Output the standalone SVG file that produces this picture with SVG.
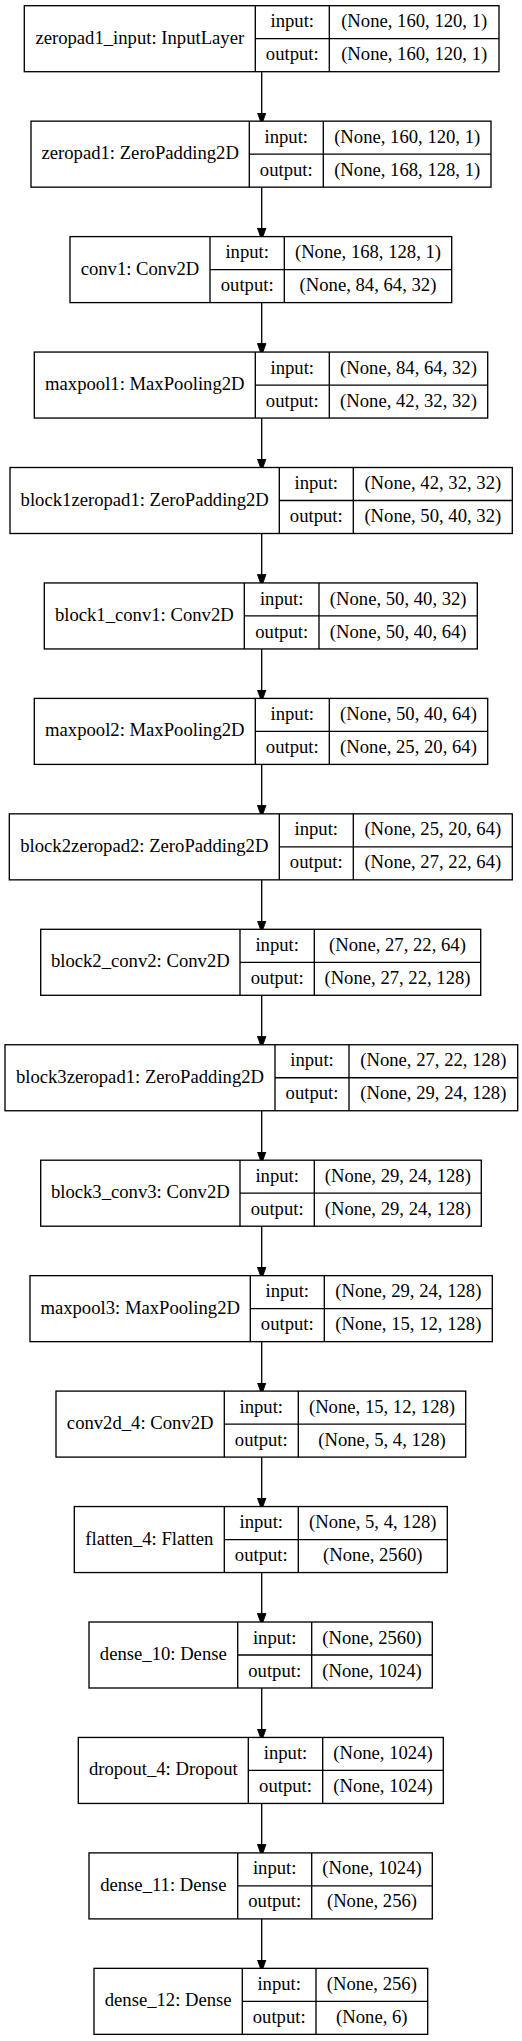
<svg xmlns="http://www.w3.org/2000/svg" width="522" height="2041" viewBox="0 0 522 2041">
<style>
.b{fill:#fff;stroke:#000;stroke-width:1.33}
.l{stroke:#000;stroke-width:1.33;fill:none}
text{font-family:"Liberation Serif","Times New Roman",serif;font-size:18.67px;fill:#000;text-anchor:middle}
.e{stroke:#000;stroke-width:1.33;fill:none;marker-end:url(#ah)}
</style>
<defs>
<marker id="ah" markerUnits="userSpaceOnUse" markerWidth="12" markerHeight="16" refX="10" refY="5" orient="auto" viewBox="0 0 14 10">
<polygon points="0,0 14,5 0,10" fill="#000" stroke="#000" stroke-width="1"/>
</marker>
</defs>
<rect width="522" height="2041" fill="#fff"/>
<g id="connectors">
<line class="e" x1="261.7" y1="71.7" x2="261.7" y2="121.15"/>
<line class="e" x1="261.7" y1="187.15" x2="261.7" y2="236.6"/>
<line class="e" x1="261.7" y1="302.6" x2="261.7" y2="352.05"/>
<line class="e" x1="261.7" y1="418.05" x2="261.7" y2="467.5"/>
<line class="e" x1="261.7" y1="533.5" x2="261.7" y2="582.95"/>
<line class="e" x1="261.7" y1="648.95" x2="261.7" y2="698.4"/>
<line class="e" x1="261.7" y1="764.4" x2="261.7" y2="813.85"/>
<line class="e" x1="261.7" y1="879.85" x2="261.7" y2="929.3"/>
<line class="e" x1="261.7" y1="995.3" x2="261.7" y2="1044.75"/>
<line class="e" x1="261.7" y1="1110.75" x2="261.7" y2="1160.2"/>
<line class="e" x1="261.7" y1="1226.2" x2="261.7" y2="1275.65"/>
<line class="e" x1="261.7" y1="1341.65" x2="261.7" y2="1391.1"/>
<line class="e" x1="261.7" y1="1457.1" x2="261.7" y2="1506.55"/>
<line class="e" x1="261.7" y1="1572.55" x2="261.7" y2="1622"/>
<line class="e" x1="261.7" y1="1688" x2="261.7" y2="1737.45"/>
<line class="e" x1="261.7" y1="1803.45" x2="261.7" y2="1852.9"/>
<line class="e" x1="261.7" y1="1918.9" x2="261.7" y2="1968.35"/>
</g>
<g id="n0" transform="translate(0,5.7)">
<rect class="b" x="24.3" y="0" width="474.7" height="66"/>
<path class="l" d="M255.3,0V66M329.3,0V66M255.3,33H499"/>
<text x="139.8" y="38">zeropad1_input: InputLayer</text>
<text x="292.3" y="21.6">input:</text><text x="292.3" y="54.6">output:</text>
<text x="414.2" y="21.6">(None, 160, 120, 1)</text><text x="414.2" y="54.6">(None, 160, 120, 1)</text>
</g>
<g id="n1" transform="translate(0,121.15)">
<rect class="b" x="31" y="0" width="460" height="66"/>
<path class="l" d="M249.3,0V66M323.3,0V66M249.3,33H491"/>
<text x="140.2" y="38">zeropad1: ZeroPadding2D</text>
<text x="286.3" y="21.6">input:</text><text x="286.3" y="54.6">output:</text>
<text x="407.2" y="21.6">(None, 160, 120, 1)</text><text x="407.2" y="54.6">(None, 168, 128, 1)</text>
</g>
<g id="n2" transform="translate(0,236.6)">
<rect class="b" x="70" y="0" width="381.7" height="66"/>
<path class="l" d="M210,0V66M284.3,0V66M210,33H451.7"/>
<text x="140" y="38">conv1: Conv2D</text>
<text x="247.2" y="21.6">input:</text><text x="247.2" y="54.6">output:</text>
<text x="368" y="21.6">(None, 168, 128, 1)</text><text x="368" y="54.6">(None, 84, 64, 32)</text>
</g>
<g id="n3" transform="translate(0,352.05)">
<rect class="b" x="34.3" y="0" width="453.4" height="66"/>
<path class="l" d="M255.3,0V66M329.3,0V66M255.3,33H487.7"/>
<text x="144.8" y="38">maxpool1: MaxPooling2D</text>
<text x="292.3" y="21.6">input:</text><text x="292.3" y="54.6">output:</text>
<text x="408.5" y="21.6">(None, 84, 64, 32)</text><text x="408.5" y="54.6">(None, 42, 32, 32)</text>
</g>
<g id="n4" transform="translate(0,467.5)">
<rect class="b" x="10" y="0" width="502.3" height="66"/>
<path class="l" d="M279.3,0V66M353.3,0V66M279.3,33H512.3"/>
<text x="144.7" y="38">block1zeropad1: ZeroPadding2D</text>
<text x="316.3" y="21.6">input:</text><text x="316.3" y="54.6">output:</text>
<text x="432.8" y="21.6">(None, 42, 32, 32)</text><text x="432.8" y="54.6">(None, 50, 40, 32)</text>
</g>
<g id="n5" transform="translate(0,582.95)">
<rect class="b" x="44.3" y="0" width="433" height="66"/>
<path class="l" d="M244.3,0V66M319,0V66M244.3,33H477.3"/>
<text x="144.3" y="38">block1_conv1: Conv2D</text>
<text x="281.7" y="21.6">input:</text><text x="281.7" y="54.6">output:</text>
<text x="398.2" y="21.6">(None, 50, 40, 32)</text><text x="398.2" y="54.6">(None, 50, 40, 64)</text>
</g>
<g id="n6" transform="translate(0,698.4)">
<rect class="b" x="34.3" y="0" width="453.4" height="66"/>
<path class="l" d="M255.3,0V66M329.3,0V66M255.3,33H487.7"/>
<text x="144.8" y="38">maxpool2: MaxPooling2D</text>
<text x="292.3" y="21.6">input:</text><text x="292.3" y="54.6">output:</text>
<text x="408.5" y="21.6">(None, 50, 40, 64)</text><text x="408.5" y="54.6">(None, 25, 20, 64)</text>
</g>
<g id="n7" transform="translate(0,813.85)">
<rect class="b" x="9.3" y="0" width="503" height="66"/>
<path class="l" d="M279.3,0V66M353.3,0V66M279.3,33H512.3"/>
<text x="144.3" y="38">block2zeropad2: ZeroPadding2D</text>
<text x="316.3" y="21.6">input:</text><text x="316.3" y="54.6">output:</text>
<text x="432.8" y="21.6">(None, 25, 20, 64)</text><text x="432.8" y="54.6">(None, 27, 22, 64)</text>
</g>
<g id="n8" transform="translate(0,929.3)">
<rect class="b" x="40.7" y="0" width="440" height="66"/>
<path class="l" d="M240,0V66M314.3,0V66M240,33H480.7"/>
<text x="140.3" y="38">block2_conv2: Conv2D</text>
<text x="277.2" y="21.6">input:</text><text x="277.2" y="54.6">output:</text>
<text x="397.5" y="21.6">(None, 27, 22, 64)</text><text x="397.5" y="54.6">(None, 27, 22, 128)</text>
</g>
<g id="n9" transform="translate(0,1044.75)">
<rect class="b" x="5" y="0" width="512.7" height="66"/>
<path class="l" d="M275,0V66M349,0V66M275,33H517.7"/>
<text x="140" y="38">block3zeropad1: ZeroPadding2D</text>
<text x="312" y="21.6">input:</text><text x="312" y="54.6">output:</text>
<text x="433.3" y="21.6">(None, 27, 22, 128)</text><text x="433.3" y="54.6">(None, 29, 24, 128)</text>
</g>
<g id="n10" transform="translate(0,1160.2)">
<rect class="b" x="40.7" y="0" width="440.6" height="66"/>
<path class="l" d="M240,0V66M314.3,0V66M240,33H481.3"/>
<text x="140.3" y="38">block3_conv3: Conv2D</text>
<text x="277.2" y="21.6">input:</text><text x="277.2" y="54.6">output:</text>
<text x="397.8" y="21.6">(None, 29, 24, 128)</text><text x="397.8" y="54.6">(None, 29, 24, 128)</text>
</g>
<g id="n11" transform="translate(0,1275.65)">
<rect class="b" x="30" y="0" width="462.3" height="66"/>
<path class="l" d="M250.3,0V66M324.3,0V66M250.3,33H492.3"/>
<text x="140.2" y="38">maxpool3: MaxPooling2D</text>
<text x="287.3" y="21.6">input:</text><text x="287.3" y="54.6">output:</text>
<text x="408.3" y="21.6">(None, 29, 24, 128)</text><text x="408.3" y="54.6">(None, 15, 12, 128)</text>
</g>
<g id="n12" transform="translate(0,1391.1)">
<rect class="b" x="56" y="0" width="409.7" height="66"/>
<path class="l" d="M224.3,0V66M298.3,0V66M224.3,33H465.7"/>
<text x="140.2" y="38">conv2d_4: Conv2D</text>
<text x="261.3" y="21.6">input:</text><text x="261.3" y="54.6">output:</text>
<text x="382" y="21.6">(None, 15, 12, 128)</text><text x="382" y="54.6">(None, 5, 4, 128)</text>
</g>
<g id="n13" transform="translate(0,1506.55)">
<rect class="b" x="74.3" y="0" width="373" height="66"/>
<path class="l" d="M224.3,0V66M298.3,0V66M224.3,33H447.3"/>
<text x="149.3" y="38">flatten_4: Flatten</text>
<text x="261.3" y="21.6">input:</text><text x="261.3" y="54.6">output:</text>
<text x="372.8" y="21.6">(None, 5, 4, 128)</text><text x="372.8" y="54.6">(None, 2560)</text>
</g>
<g id="n14" transform="translate(0,1622)">
<rect class="b" x="89" y="0" width="343.3" height="66"/>
<path class="l" d="M237.7,0V66M311.7,0V66M237.7,33H432.3"/>
<text x="163.3" y="38">dense_10: Dense</text>
<text x="274.7" y="21.6">input:</text><text x="274.7" y="54.6">output:</text>
<text x="372" y="21.6">(None, 2560)</text><text x="372" y="54.6">(None, 1024)</text>
</g>
<g id="n15" transform="translate(0,1737.45)">
<rect class="b" x="78.3" y="0" width="365" height="66"/>
<path class="l" d="M248.3,0V66M322.7,0V66M248.3,33H443.3"/>
<text x="163.3" y="38">dropout_4: Dropout</text>
<text x="285.5" y="21.6">input:</text><text x="285.5" y="54.6">output:</text>
<text x="383" y="21.6">(None, 1024)</text><text x="383" y="54.6">(None, 1024)</text>
</g>
<g id="n16" transform="translate(0,1852.9)">
<rect class="b" x="89" y="0" width="343.3" height="66"/>
<path class="l" d="M237.7,0V66M311.7,0V66M237.7,33H432.3"/>
<text x="163.3" y="38">dense_11: Dense</text>
<text x="274.7" y="21.6">input:</text><text x="274.7" y="54.6">output:</text>
<text x="372" y="21.6">(None, 1024)</text><text x="372" y="54.6">(None, 256)</text>
</g>
<g id="n17" transform="translate(0,1968.35)">
<rect class="b" x="94" y="0" width="333.7" height="66"/>
<path class="l" d="M242.3,0V66M316,0V66M242.3,33H427.7"/>
<text x="168.2" y="38">dense_12: Dense</text>
<text x="279.2" y="21.6">input:</text><text x="279.2" y="54.6">output:</text>
<text x="371.8" y="21.6">(None, 256)</text><text x="371.8" y="54.6">(None, 6)</text>
</g>
</svg>
